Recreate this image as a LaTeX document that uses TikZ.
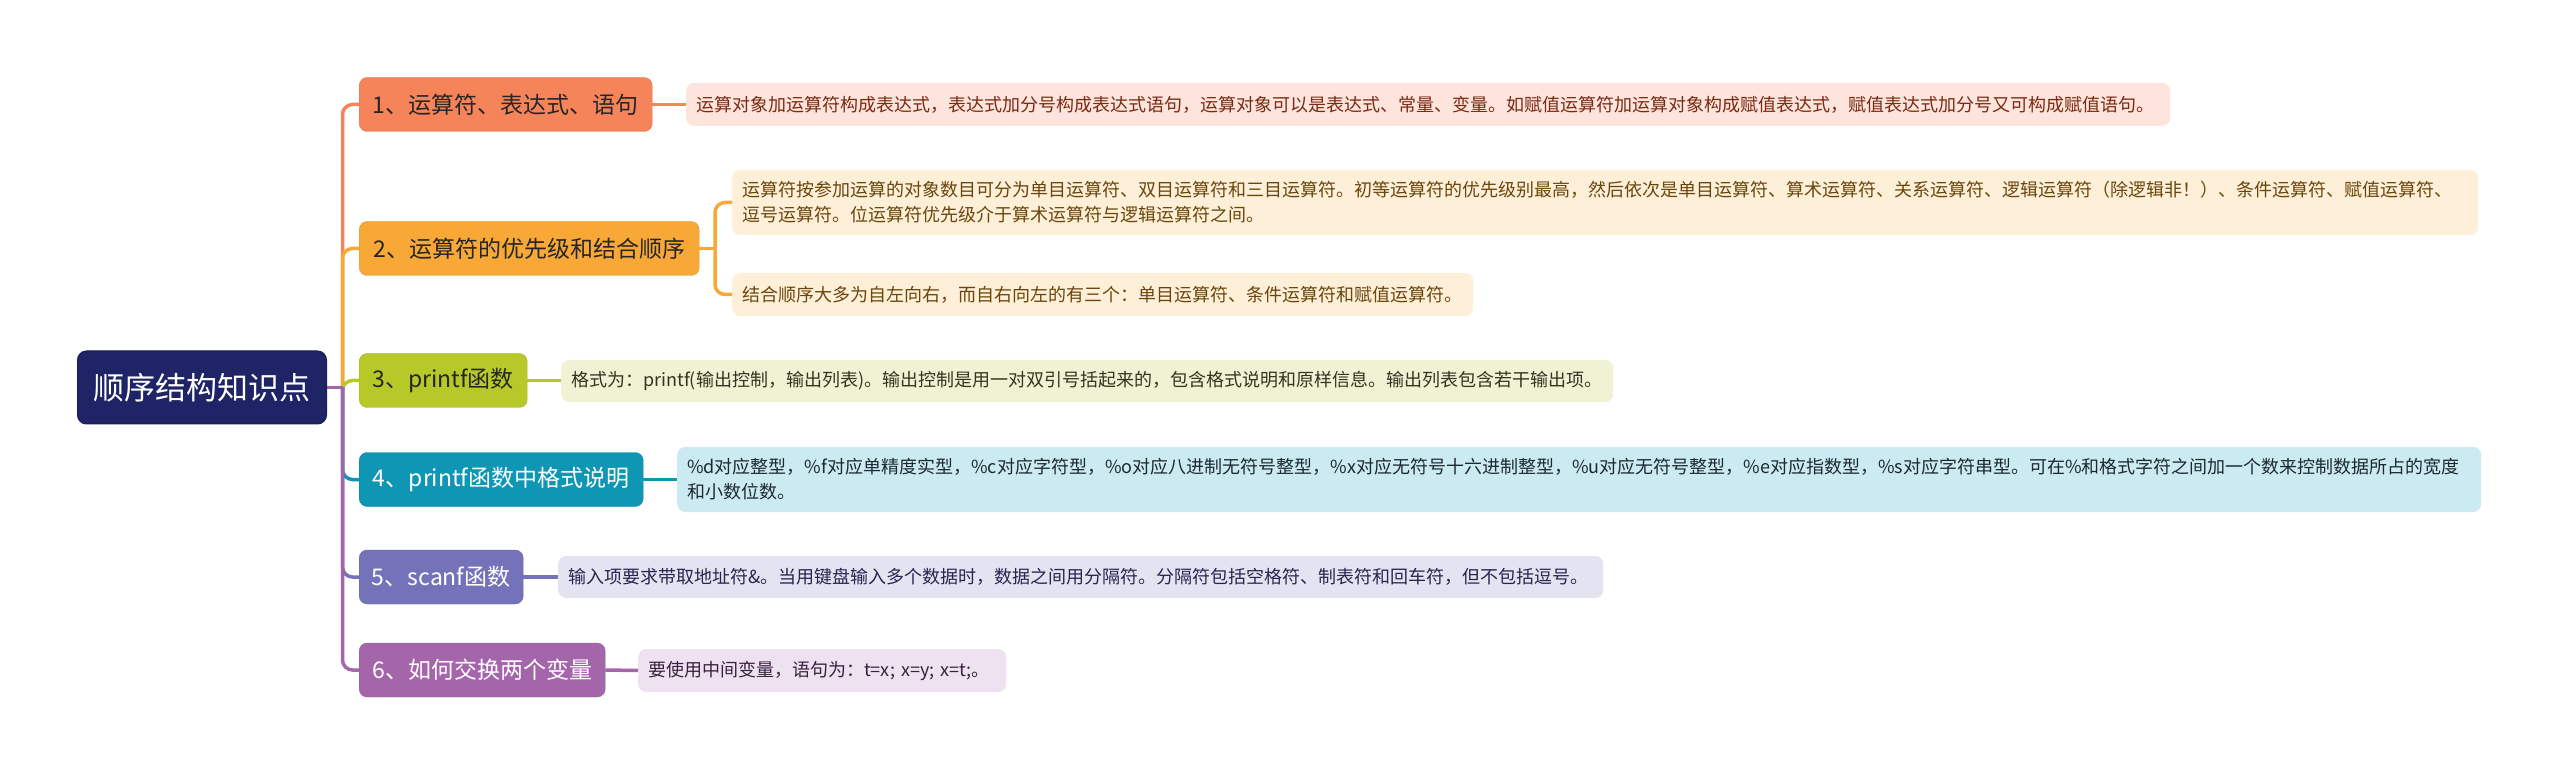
\documentclass[tikz,border=0pt]{standalone}
\usepackage{fontspec}
\setmainfont{Noto Sans CJK SC}
\definecolor{rootc}{HTML}{1F2466}
\definecolor{c1}{HTML}{F5845A}
\definecolor{c2}{HTML}{F8A836}
\definecolor{c3}{HTML}{B6C928}
\definecolor{c4}{HTML}{0E96B4}
\definecolor{c5}{HTML}{7473BA}
\definecolor{c6}{HTML}{A565AA}
\definecolor{l1}{HTML}{FDE4DD}
\definecolor{l2}{HTML}{FEEFD8}
\definecolor{l3}{HTML}{EFF3D4}
\definecolor{l4}{HTML}{CCEAF1}
\definecolor{l5}{HTML}{E4E3F1}
\definecolor{l6}{HTML}{EFE2F0}
\definecolor{t1}{HTML}{7A2A12}
\definecolor{t2}{HTML}{6A460C}
\definecolor{t3}{HTML}{35351F}
\definecolor{t4}{HTML}{1C2A30}
\definecolor{t5}{HTML}{26264E}
\definecolor{t6}{HTML}{38203E}
\begin{document}
\begin{tikzpicture}[x=1pt,y=-1pt,
  rootbox/.style={fill=rootc,draw=rootc!80!black,line width=1pt,rounded corners=9pt,text=white,
    minimum width=249pt,minimum height=73pt,anchor=west,inner sep=0pt,
    font=\fontsize{31}{36}\selectfont},
  branchbox/.style={rounded corners=8pt,minimum height=54pt,anchor=west,inner sep=0pt,
    font=\fontsize{23}{28}\selectfont},
  leafbox/.style={rounded corners=8pt,anchor=west,inner xsep=10pt,inner ysep=0pt,align=left,
    font=\fontsize{18}{25}\selectfont},
  conn/.style={line width=3.5pt,rounded corners=10pt},
]
\useasboundingbox (0,0) rectangle (2560,775);
% root
\node[rootbox] (root) at (77,387.5) {顺序结构知识点};
\coordinate (T) at (342.5,387.5);
% branches
\node[branchbox,fill=c1,draw=c1!90!black,text=black!85,minimum width=293pt] (b1) at (359,104.5) {1、运算符、表达式、语句};
\node[branchbox,fill=c2,draw=c2!90!black,text=black!85,minimum width=340pt] (b2) at (359,248.5) {2、运算符的优先级和结合顺序};
\node[branchbox,fill=c3,draw=c3!90!black,text=black!85,minimum width=168pt] (b3) at (359,380.5) {3、printf函数};
\node[branchbox,fill=c4,draw=c4!90!black,text=white,minimum width=284pt] (b4) at (359,479.5) {4、printf函数中格式说明};
\node[branchbox,fill=c5,draw=c5!90!black,text=white,minimum width=164pt] (b5) at (359,577) {5、scanf函数};
\node[branchbox,fill=c6,draw=c6!90!black,text=white,minimum width=246pt] (b6) at (359,670) {6、如何交换两个变量};
% leaves
\node[leafbox,fill=l1,text=t1,text width=1464pt,minimum height=43pt] (l1) at (686,104.5) {运算对象加运算符构成表达式，表达式加分号构成表达式语句，运算对象可以是表达式、常量、变量。如赋值运算符加运算对象构成赋值表达式，赋值表达式加分号又可构成赋值语句。};
\node[leafbox,fill=l2,text=t2,text width=1726pt,minimum height=65pt] (l2a) at (732,202.5) {运算符按参加运算的对象数目可分为单目运算符、双目运算符和三目运算符。初等运算符的优先级别最高，然后依次是单目运算符、算术运算符、关系运算符、逻辑运算符（除逻辑非！）、条件运算符、赋值运算符、\\逗号运算符。位运算符优先级介于算术运算符与逻辑运算符之间。};
\node[leafbox,fill=l2,text=t2,text width=721pt,minimum height=43pt] (l2b) at (732,294.5) {结合顺序大多为自左向右，而自右向左的有三个：单目运算符、条件运算符和赋值运算符。};
\node[leafbox,fill=l3,text=t3,text width=1032pt,minimum height=42pt] (l3) at (561,381) {格式为：printf(输出控制，输出列表)。输出控制是用一对双引号括起来的，包含格式说明和原样信息。输出列表包含若干输出项。};
\node[leafbox,fill=l4,text=t4,text width=1784pt,minimum height=65pt] (l4) at (677,479.5) {\%d对应整型，\%f对应单精度实型，\%c对应字符型，\%o对应八进制无符号整型，\%x对应无符号十六进制整型，\%u对应无符号整型，\%e对应指数型，\%s对应字符串型。可在\%和格式字符之间加一个数来控制数据所占的宽度\\和小数位数。};
\node[leafbox,fill=l5,text=t5,text width=1025pt,minimum height=42pt] (l5) at (558,577) {输入项要求带取地址符\&。当用键盘输入多个数据时，数据之间用分隔符。分隔符包括空格符、制表符和回车符，但不包括逗号。};
\node[leafbox,fill=l6,text=t6,text width=348pt,minimum height=43pt] (l6) at (638,670.5) {要使用中间变量，语句为：t=x; x=y; x=t;。};
% trunk connectors
\draw[conn,c1] (T) |- (b1.west);
\draw[conn,c2] (T) |- (b2.west);
\draw[conn,c3] (T) |- (b3.west);
\draw[conn,c4] (T) |- (b4.west);
\draw[conn,c5] (T) |- (b5.west);
\draw[conn,c6] (T) |- (b6.west);
\draw[conn,c6] (root.east) -- (T);
% leaf connectors
\draw[conn,c1] (b1.east) -- (l1.west);
\coordinate (B2) at (715,248.5);
\draw[conn,c2] (b2.east) -- (B2);
\draw[conn,c2] (B2) |- (l2a.west);
\draw[conn,c2] (B2) |- (l2b.west);
\draw[conn,c3] (b3.east) -- (b3.east -| l3.west);
\draw[conn,c4] (b4.east) -- (l4.west);
\draw[conn,c5] (b5.east) -- (l5.west);
\draw[conn,c6] (b6.east) -- (l6.west);
\end{tikzpicture}
\end{document}
